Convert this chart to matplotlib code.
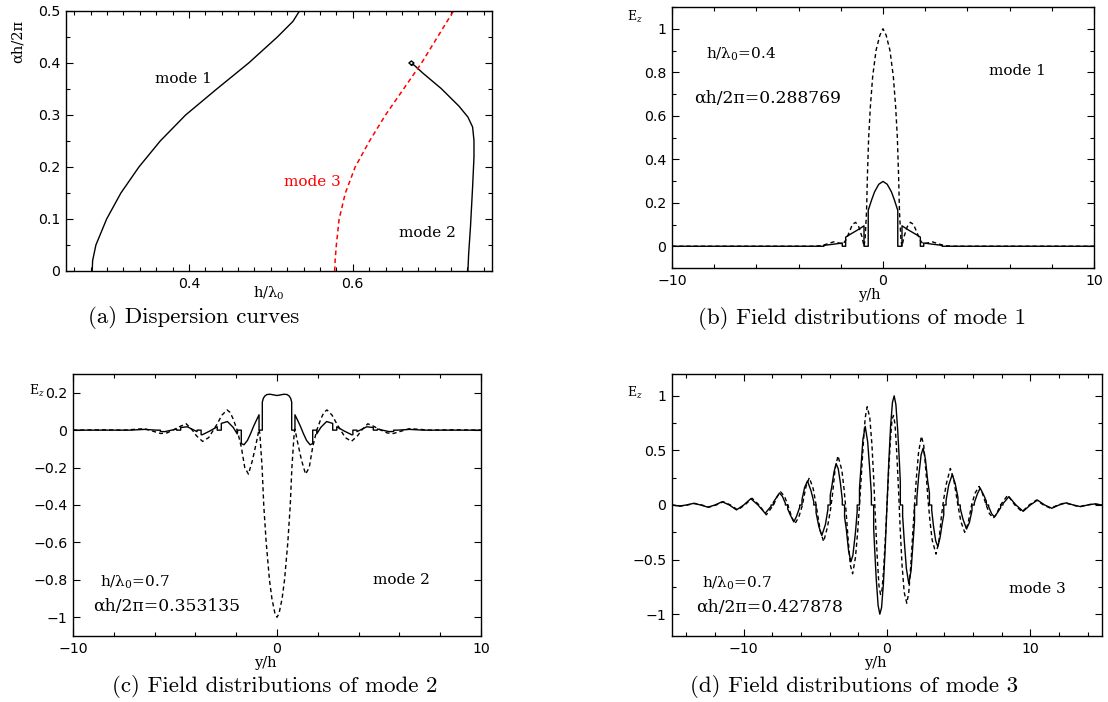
import numpy as np
import matplotlib
matplotlib.use('Agg')
import matplotlib.pyplot as plt
from matplotlib.ticker import MultipleLocator, FuncFormatter

plt.rcParams['mathtext.fontset'] = 'dejavuserif'

# ---- (a) dispersion curves: h/lambda0 vs alpha h / 2pi ----
mode1_h = [0.282, 0.2825, 0.2865, 0.2996, 0.317, 0.339, 0.365, 0.396, 0.434, 0.473, 0.508, 0.527, 0.535]
mode1_a = [0.0, 0.02, 0.05, 0.10, 0.15, 0.20, 0.25, 0.30, 0.35, 0.40, 0.45, 0.48, 0.50]

mode2_h = [0.7406, 0.7415, 0.7437, 0.7463, 0.748, 0.748, 0.7463, 0.7406, 0.7297, 0.7079, 0.686, 0.6745,
           0.6716, 0.6686, 0.6716, 0.6747, 0.6716]
mode2_a = [0.0, 0.033, 0.084, 0.161, 0.219, 0.251, 0.277, 0.296, 0.317, 0.351, 0.380, 0.3965,
           0.3961, 0.40, 0.4039, 0.40, 0.3961]

mode3_h = [0.578, 0.5785, 0.580, 0.5834, 0.591, 0.603, 0.6205, 0.640, 0.662, 0.684, 0.7035, 0.723]
mode3_a = [0.0, 0.02, 0.05, 0.10, 0.15, 0.20, 0.25, 0.30, 0.35, 0.40, 0.45, 0.50]

# ---- (b) mode 1 field, y/h >= 0 (even) ----
b_sol_y = [0, 0.2, 0.4, 0.55, 0.7, 0.7, 0.9, 0.9, 1.2, 1.5, 1.77, 1.77, 1.93, 1.93, 2.3, 2.8, 2.8, 2.95, 3.3, 10]
b_sol_e = [0.298, 0.285, 0.25, 0.21, 0.165, 0, 0, 0.094, 0.075, 0.058, 0.042, 0, 0, 0.015, 0.01, 0.004, 0, 0, 0, 0]
b_dsh_y = [0, 0.15, 0.33, 0.49, 0.6, 0.68, 0.74, 0.78, 0.85, 0.9, 1.0, 1.15, 1.3, 1.45, 1.6, 1.75, 1.9,
           2.1, 2.35, 2.6, 2.9, 3.3, 10]
b_dsh_e = [1.0, 0.97, 0.9, 0.78, 0.64, 0.5, 0.32, 0.16, 0.03, 0.0, 0.045, 0.09, 0.11, 0.1, 0.065, 0.03, 0.01,
           0.015, 0.02, 0.012, 0.003, 0, 0]

# ---- (c) mode 2 field, y/h >= 0 (even) ----
c_sol_y = [0, 0.15, 0.35, 0.5, 0.6, 0.67, 0.72, 0.72, 0.88, 0.88, 1.0, 1.15, 1.3, 1.45, 1.62, 1.75, 1.75,
           1.95, 1.95, 2.15, 2.43, 2.73, 2.73, 2.93, 2.93, 3.3, 3.67, 3.72, 3.72, 3.92, 3.92, 4.4, 4.72, 4.72,
           4.92, 4.92, 5.5, 5.72, 5.72, 5.92, 6.5, 7.2, 10]
c_sol_e = [0.185, 0.188, 0.192, 0.19, 0.182, 0.17, 0.15, 0, 0, 0.082, 0.055, 0.02, -0.02, -0.055, -0.078,
           -0.072, 0, 0, -0.02, 0.015, 0.046, 0.036, 0, 0, 0.018, -0.005, -0.025, -0.024, 0, 0, -0.008,
           0.018, 0.014, 0, 0, 0.006, -0.008, -0.007, 0, 0, 0.004, 0, 0]
c_dsh_y = [0, 0.1, 0.25, 0.37, 0.53, 0.65, 0.73, 0.84, 0.88, 1.0, 1.2, 1.4, 1.58, 1.75, 1.95, 2.15, 2.3,
           2.45, 2.7, 2.95, 3.12, 3.35, 3.65, 3.95, 4.15, 4.45, 4.75, 5.1, 5.4, 5.7, 6.1, 6.5, 7.0, 7.5,
           8.5, 10]
c_dsh_e = [-1.0, -0.98, -0.9, -0.8, -0.6, -0.4, -0.2, -0.02, 0.005, -0.06, -0.16, -0.235, -0.2, -0.09,
           0.0, 0.06, 0.095, 0.108, 0.08, 0.03, 0.0, -0.04, -0.06, -0.03, 0.0, 0.034, 0.02, 0.0, -0.015,
           -0.018, -0.005, 0.008, 0.004, 0, 0.002, 0]

# ---- (d) mode 3 field, y/h >= 0 (odd) ----
d_sol_y = [0, 0.12, 0.25, 0.38, 0.5, 0.62, 0.75, 0.87, 0.93, 0.93, 1.09, 1.09, 1.2, 1.35, 1.52, 1.68, 1.8,
           1.92, 1.92, 2.08, 2.08, 2.2, 2.38, 2.52, 2.68, 2.84, 2.96, 2.96, 3.12, 3.12, 3.25, 3.4, 3.55, 3.7,
           3.85, 3.96, 3.96, 4.12, 4.12, 4.3, 4.55, 4.75, 4.95, 4.95, 5.11, 5.11, 5.3, 5.55, 5.75, 5.93, 5.93,
           6.09, 6.09, 6.3, 6.5, 6.75, 6.93, 6.93, 7.09, 7.09, 7.3, 7.5, 7.75, 7.93, 7.93, 8.09, 8.09, 8.5,
           9.0, 9.5, 10.0, 10.5, 11.0, 11.5, 12.0, 12.5, 13.0, 13.5, 14.0, 14.5, 15.0]
d_sol_e = [0, 0.38, 0.72, 0.94, 1.0, 0.92, 0.68, 0.38, 0.21, 0, 0, -0.1, -0.32, -0.58, -0.72, -0.6, -0.38,
           -0.15, 0, 0, 0.06, 0.25, 0.46, 0.52, 0.42, 0.22, 0.11, 0, 0, -0.05, -0.2, -0.33, -0.38, -0.3,
           -0.17, -0.09, 0, 0, 0.04, 0.18, 0.28, 0.2, 0.07, 0, 0, -0.03, -0.13, -0.22, -0.16, -0.05, 0,
           0, 0.02, 0.1, 0.155, 0.09, 0.035, 0, 0, -0.015, -0.08, -0.11, -0.06, -0.025, 0, 0, 0.012, 0.076,
           0, -0.058, 0, 0.045, 0, -0.03, 0, 0.02, 0, -0.015, 0, 0.01, 0]
d_dsh_y = [0, 0.12, 0.25, 0.35, 0.45, 0.56, 0.68, 0.8, 0.92, 1.05, 1.2, 1.38, 1.52, 1.66, 1.8, 1.92, 2.05,
           2.2, 2.4, 2.56, 2.72, 2.86, 3.0, 3.15, 3.42, 3.62, 3.8, 3.95, 4.15, 4.42, 4.65, 4.92, 5.15, 5.42,
           5.65, 5.92, 6.15, 6.42, 6.65, 6.92, 7.15, 7.42, 7.65, 7.92, 8.42, 8.92, 9.42, 9.92, 10.42, 10.92,
           11.42, 11.92, 12.42, 12.92, 13.42, 13.92, 14.42, 15.0]
d_dsh_e = [0, 0.32, 0.62, 0.78, 0.82, 0.74, 0.48, 0.15, -0.22, -0.55, -0.8, -0.9, -0.8, -0.55, -0.25, 0.0,
           0.25, 0.48, 0.63, 0.55, 0.3, 0.05, -0.15, -0.32, -0.45, -0.33, -0.1, 0.05, 0.2, 0.335, 0.24,
           0.02, -0.15, -0.25, -0.17, 0.01, 0.11, 0.17, 0.11, 0, -0.08, -0.12, -0.08, 0, 0.09, 0, -0.062,
           0, 0.045, 0, -0.03, 0, 0.02, 0, -0.015, 0, 0.01, 0]

W, H = 1108, 702
fig = plt.figure(figsize=(W / 100, H / 100), dpi=100)


def px_axes(left, top, right, bottom):
    return fig.add_axes([left / W, 1 - bottom / H, (right - left) / W, (bottom - top) / H])


def ftext(x, y, s, **kw):
    fig.text(x / W, 1 - y / H, s, ha='center', va='center', **kw)


def fmt(v, pos):
    if abs(v) < 1e-9:
        v = 0
    return '{:g}'.format(round(v, 6)).replace('-', '\u2212')


def style(ax, xlim, ylim, xmaj, xmin, ymaj, ymin):
    ax.set_xlim(*xlim)
    ax.set_ylim(*ylim)
    ax.xaxis.set_major_locator(MultipleLocator(xmaj))
    ax.xaxis.set_minor_locator(MultipleLocator(xmin))
    ax.yaxis.set_major_locator(MultipleLocator(ymaj))
    if ymin:
        ax.yaxis.set_minor_locator(MultipleLocator(ymin))
    ax.xaxis.set_major_formatter(FuncFormatter(fmt))
    ax.yaxis.set_major_formatter(FuncFormatter(fmt))
    ax.tick_params(which='both', direction='in', top=True, right=True, labelsize=10.2, pad=4)
    ax.tick_params(which='major', length=5, width=0.8)
    ax.tick_params(which='minor', length=3, width=0.8)
    for sp in ax.spines.values():
        sp.set_linewidth(1.0)


def even(xs, ys):
    xs, ys = np.asarray(xs), np.asarray(ys)
    return np.r_[-xs[:0:-1], xs], np.r_[ys[:0:-1], ys]


def odd(xs, ys):
    xs, ys = np.asarray(xs), np.asarray(ys)
    return np.r_[-xs[:0:-1], xs], np.r_[-ys[:0:-1], ys]


serif = dict(family='DejaVu Serif', fontsize=11)
serif_big = dict(family='DejaVu Serif', fontsize=12.3)
dash = (0, (3, 2.2))
cap = dict(family='cmr10', fontsize=16.5)

# (a) Dispersion curves
ax = px_axes(66, 11, 492, 271)
ax.plot(mode1_h, mode1_a, color='black', lw=1.0)
ax.plot(mode2_h, mode2_a, color='black', lw=1.0)
ax.plot(mode3_h, mode3_a, color='red', lw=1.1, linestyle=dash)
style(ax, (0.25, 0.77), (0, 0.5), 0.2, 0.02, 0.1, 0.05)
ax.text(0.3585, 0.37, 'mode 1', ha='left', va='center', **serif)
ax.text(0.5157, 0.172, 'mode 3', ha='left', va='center', color='red', **serif)
ax.text(0.6568, 0.0726, 'mode 2', ha='left', va='center', **serif)
ftext(18, 41, '\u03b1h/2\u03c0', rotation=90, family='DejaVu Serif', fontsize=10.5)
ftext(269, 293, 'h/\u03bb$_0$', family='DejaVu Serif', fontsize=10.5)
ftext(194, 318, '(a) Dispersion curves', **cap)

# (b) mode 1
ax = px_axes(672, 7, 1094, 268)
ax.plot(*even(b_sol_y, b_sol_e), color='black', lw=1.0)
ax.plot(*even(b_dsh_y, b_dsh_e), color='black', lw=1.0, linestyle=dash)
style(ax, (-10, 10), (-0.1, 1.1), 10, 2, 0.2, 0.1)
ax.text(-8.37, 0.881, 'h/\u03bb$_0$=0.4', ha='left', va='center', **serif)
ax.text(-8.95, 0.678, '\u03b1h/2\u03c0=0.288769', ha='left', va='center', **serif_big)
ax.text(5.02, 0.808, 'mode 1', ha='left', va='center', **serif)
ftext(635, 17, 'E$_z$', family='DejaVu Serif', fontsize=9)
ftext(869, 295, 'y/h', family='DejaVu Serif', fontsize=10.5)
ftext(862, 319, '(b) Field distributions of mode 1', **cap)

# (c) mode 2
ax = px_axes(73, 374, 481, 636)
ax.plot(*even(c_sol_y, c_sol_e), color='black', lw=1.0)
ax.plot(*even(c_dsh_y, c_dsh_e), color='black', lw=1.0, linestyle=dash)
style(ax, (-10, 10), (-1.1, 0.3), 10, 2, 0.2, None)
ax.text(-8.69, -0.811, 'h/\u03bb$_0$=0.7', ha='left', va='center', **serif)
ax.text(-8.99, -0.945, '\u03b1h/2\u03c0=0.353135', ha='left', va='center', **serif_big)
ax.text(4.72, -0.80, 'mode 2', ha='left', va='center', **serif)
ftext(37, 391, 'E$_z$', family='DejaVu Serif', fontsize=9)
ftext(265, 663, 'y/h', family='DejaVu Serif', fontsize=10.5)
ftext(275, 686, '(c) Field distributions of mode 2', **cap)

# (d) mode 3
ax = px_axes(672, 374, 1102, 636)
ax.plot(*odd(d_sol_y, d_sol_e), color='black', lw=1.0)
ax.plot(*odd(d_dsh_y, d_dsh_e), color='black', lw=1.0, linestyle=dash)
style(ax, (-15, 15), (-1.2, 1.2), 10, 2, 0.5, 0.25)
ax.text(-12.9, -0.719, 'h/\u03bb$_0$=0.7', ha='left', va='center', **serif)
ax.text(-13.3, -0.94, '\u03b1h/2\u03c0=0.427878', ha='left', va='center', **serif_big)
ax.text(8.5, -0.765, 'mode 3', ha='left', va='center', **serif)
ftext(635, 393, 'E$_z$', family='DejaVu Serif', fontsize=9)
ftext(875, 663, 'y/h', family='DejaVu Serif', fontsize=10.5)
ftext(854, 686, '(d) Field distributions of mode 3', **cap)

fig.savefig('out.png', dpi=100)
